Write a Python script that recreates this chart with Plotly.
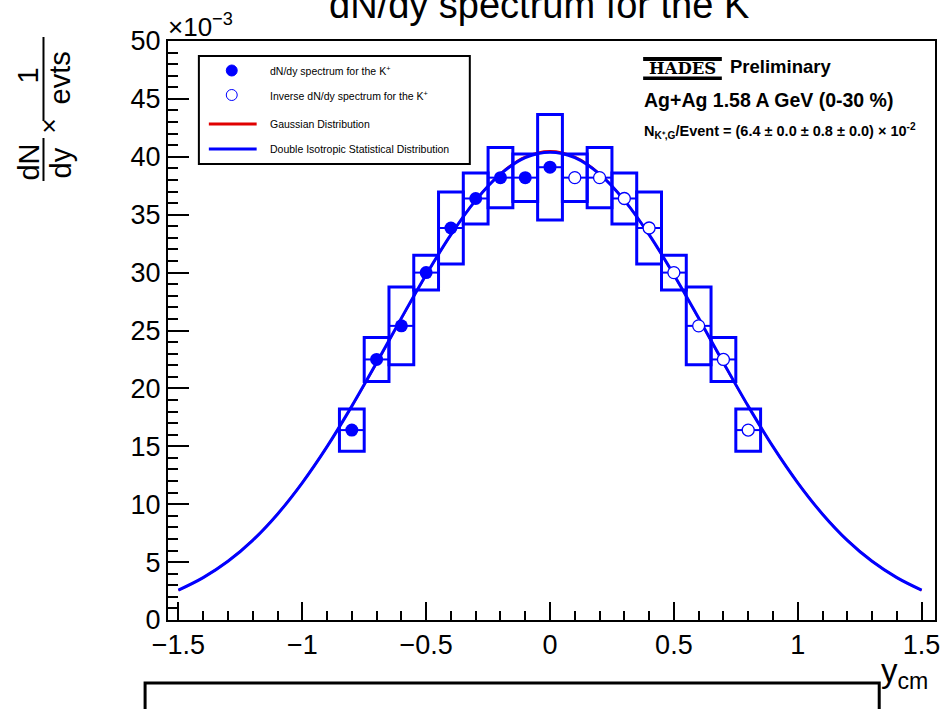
import plotly.graph_objects as go

# ---- data (dN/dy in units of 10^-3) ----
y_meas = [-0.8, -0.7, -0.6, -0.5, -0.4, -0.3, -0.2, -0.1, 0.0]
dndy_meas = [16.4, 22.5, 25.4, 30.0, 33.85, 36.4, 38.2, 38.2, 39.1]
sys_meas = [1.83, 1.9, 3.35, 1.5, 3.1, 2.2, 2.6, 2.05, 4.55]

y_refl = [0.1, 0.2, 0.3, 0.4, 0.5, 0.6, 0.7, 0.8]
dndy_refl = [38.2, 38.2, 36.4, 33.85, 30.0, 25.4, 22.5, 16.4]
sys_refl = [2.05, 2.6, 2.2, 3.1, 1.5, 3.35, 1.9, 1.83]

bin_half_width = 0.05

y_curve = [-1.5, -1.4, -1.3, -1.2, -1.1, -1.0, -0.9, -0.8, -0.7, -0.6, -0.5,
           -0.4, -0.3, -0.2, -0.1, 0.0, 0.1, 0.2, 0.3, 0.4, 0.5, 0.6, 0.7,
           0.8, 0.9, 1.0, 1.1, 1.2, 1.3, 1.4, 1.5]
gauss_curve = [2.55, 3.65, 5.08, 6.90, 9.16, 11.86, 14.97, 18.45, 22.18, 26.03,
               29.79, 33.27, 36.26, 38.56, 40.01, 40.50, 40.01, 38.56, 36.26,
               33.27, 29.79, 26.03, 22.18, 18.45, 14.97, 11.86, 9.16, 6.90,
               5.08, 3.65, 2.55]
diso_curve = [2.58, 3.66, 5.07, 6.88, 9.14, 11.85, 14.97, 18.47, 22.22, 26.07,
              29.82, 33.28, 36.24, 38.50, 39.92, 40.40, 39.92, 38.50, 36.24,
              33.28, 29.82, 26.07, 22.22, 18.47, 14.97, 11.85, 9.14, 6.88,
              5.07, 3.66, 2.58]

x_ticks = [-1.5, -1, -0.5, 0, 0.5, 1, 1.5]
x_tick_text = ["\u22121.5", "\u22121", "\u22120.5", "0", "0.5", "1", "1.5"]
y_ticks = [0, 5, 10, 15, 20, 25, 30, 35, 40, 45, 50]

legend_labels = ["dN/dy spectrum for the K<sup>+</sup>",
                 "Inverse dN/dy spectrum for the K<sup>+</sup>",
                 "Gaussian Distribution",
                 "Double Isotropic Statistical Distribution"]

# ---- styling ----
W, H = 952, 709
ML, MR, MT, MB = 168, 14, 41, 89
PW, PH = W - ML - MR, H - MT - MB
BLUE = "#0000ff"
RED = "#e00000"
FONT = "Liberation Sans, Arial, Helvetica, sans-serif"


def px(x):
    return (x - ML) / PW


def py(y):
    return (H - MB - y) / PH


fig = go.Figure()

fig.add_trace(go.Scatter(x=y_curve, y=gauss_curve, mode="lines",
                         line=dict(color=RED, width=2, shape="spline", smoothing=1.0),
                         showlegend=False, hoverinfo="skip"))
fig.add_trace(go.Scatter(x=y_curve, y=diso_curve, mode="lines",
                         line=dict(color=BLUE, width=3, shape="spline", smoothing=1.0),
                         showlegend=False, hoverinfo="skip"))

fig.add_trace(go.Scatter(
    x=y_meas, y=dndy_meas, mode="markers",
    marker=dict(symbol="circle", size=13, color=BLUE, line=dict(width=0)),
    error_x=dict(type="constant", value=bin_half_width, width=0, thickness=2, color=BLUE),
    showlegend=False))
fig.add_trace(go.Scatter(
    x=y_refl, y=dndy_refl, mode="markers",
    marker=dict(symbol="circle", size=12, color="white", line=dict(width=1.3, color=BLUE)),
    error_x=dict(type="constant", value=bin_half_width, width=0, thickness=2, color=BLUE),
    showlegend=False))

shapes = []
# systematic uncertainty boxes
for xs, vs, es in ((y_meas, dndy_meas, sys_meas), (y_refl, dndy_refl, sys_refl)):
    for x, v, e in zip(xs, vs, es):
        shapes.append(dict(type="rect", xref="x", yref="y",
                           x0=x - bin_half_width, x1=x + bin_half_width,
                           y0=v - e, y1=v + e,
                           line=dict(color=BLUE, width=3), fillcolor="rgba(0,0,0,0)"))

# legend frame and symbols
shapes.append(dict(type="rect", xref="paper", yref="paper",
                   x0=px(199), x1=px(471), y0=py(164), y1=py(56),
                   line=dict(color="black", width=2), fillcolor="white", layer="above"))
shapes.append(dict(type="circle", xref="paper", yref="paper",
                   x0=px(226.5), x1=px(237.5), y0=py(76), y1=py(65),
                   line=dict(color=BLUE, width=1), fillcolor=BLUE))
shapes.append(dict(type="circle", xref="paper", yref="paper",
                   x0=px(226.5), x1=px(237.5), y0=py(100.5), y1=py(89.5),
                   line=dict(color=BLUE, width=1), fillcolor="white"))
shapes.append(dict(type="line", xref="paper", yref="paper",
                   x0=px(209), x1=px(257), y0=py(124), y1=py(124),
                   line=dict(color=RED, width=3)))
shapes.append(dict(type="line", xref="paper", yref="paper",
                   x0=px(209), x1=px(257), y0=py(149), y1=py(149),
                   line=dict(color=BLUE, width=3)))

# HADES logo bars
shapes.append(dict(type="rect", xref="paper", yref="paper",
                   x0=px(645), x1=px(724), y0=py(61), y1=py(57),
                   line=dict(width=0), fillcolor="black"))
shapes.append(dict(type="rect", xref="paper", yref="paper",
                   x0=px(645), x1=px(724), y0=py(80), y1=py(76.5),
                   line=dict(width=0), fillcolor="black"))

# lower frame
shapes.append(dict(type="rect", xref="paper", yref="paper",
                   x0=px(145), x1=px(882), y0=py(725), y1=py(683),
                   line=dict(color="black", width=3), fillcolor="rgba(0,0,0,0)"))

# y-axis title fraction bars
shapes.append(dict(type="line", xref="paper", yref="paper",
                   x0=px(43), x1=px(43), y0=py(181), y1=py(138),
                   line=dict(color="black", width=2)))
shapes.append(dict(type="line", xref="paper", yref="paper",
                   x0=px(43), x1=px(43), y0=py(121), y1=py(37),
                   line=dict(color="black", width=2)))

annotations = []


def note(text, x, y, size, xanchor="center", yanchor="middle", angle=0, bold=False):
    annotations.append(dict(text=("<b>%s</b>" % text) if bold else text,
                            xref="paper", yref="paper", x=px(x), y=py(y),
                            xanchor=xanchor, yanchor=yanchor, showarrow=False,
                            textangle=angle,
                            font=dict(family=FONT, size=size, color="black")))


for label, yc in zip(legend_labels, [70.7, 95, 124, 149]):
    note(label, 268, yc, 10.5, xanchor="left")

note("dN/dy spectrum for the K<sup>+</sup>", 548, 2, 38)
note("\u00d710<sup>\u22123</sup>", 166, 25, 26, xanchor="left")
note("y<sub>cm</sub>", 933, 673, 33, xanchor="right")

# y-axis title:  dN/dy x 1/evts
note("dN", 28, 162, 29, angle=-90)
note("dy", 61, 163, 29, angle=-90)
note("\u00d7", 49, 126, 26, angle=-90)
note("1", 27, 76, 29, angle=-90)
note("evts", 60, 78, 29, angle=-90)

# info text
annotations.append(dict(text="<b>HADES</b>", xref="paper", yref="paper",
                        x=px(684.5), y=py(68.5), xanchor="center", yanchor="middle",
                        showarrow=False,
                        font=dict(family="DejaVu Serif, serif", size=16.5, color="black")))
note("Preliminary", 730, 67, 18.5, xanchor="left", bold=True)
note("Ag+Ag 1.58 A GeV (0-30 %)", 644, 100, 19.5, xanchor="left", bold=True)
note("N<sub>K\u207a,G</sub>/Event = (6.4 \u00b1 0.0 \u00b1 0.8 \u00b1 0.0) \u00d7 10<sup>-2</sup>",
     644, 131, 14.5, xanchor="left", bold=True)

axis_common = dict(showline=True, linecolor="black", linewidth=2, mirror=True,
                   ticks="inside", tickcolor="black", tickwidth=2,
                   showgrid=False, zeroline=False,
                   tickfont=dict(family=FONT, size=27, color="black"))

fig.update_layout(
    width=W, height=H,
    margin=dict(l=ML, r=MR, t=MT, b=MB, pad=0),
    paper_bgcolor="white", plot_bgcolor="white",
    showlegend=False,
    xaxis=dict(range=[-1.542, 1.554], tickvals=x_ticks, ticktext=x_tick_text,
               ticklen=18,
               minor=dict(ticks="inside", dtick=0.1, tick0=0, ticklen=9,
                          tickwidth=2, tickcolor="black"),
               **axis_common),
    yaxis=dict(range=[0, 50], tickvals=y_ticks, ticklen=21,
               minor=dict(ticks="inside", dtick=1, tick0=0, ticklen=10,
                          tickwidth=2, tickcolor="black"),
               **axis_common),
    shapes=shapes,
    annotations=annotations,
)

fig.write_html("out.html")
